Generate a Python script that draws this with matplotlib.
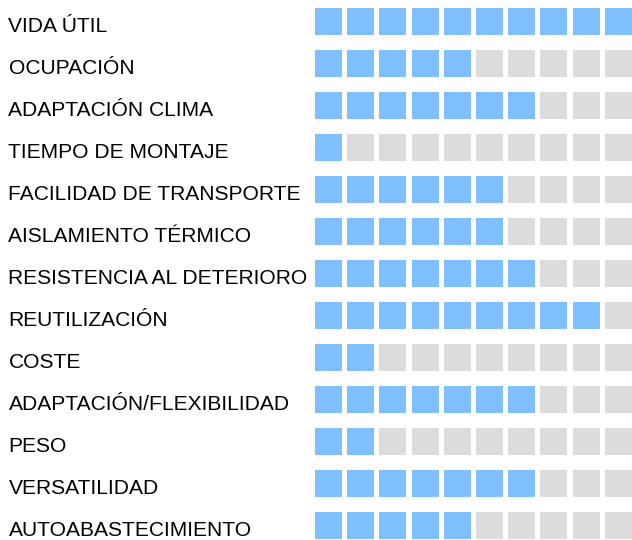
import matplotlib
matplotlib.use("Agg")
import matplotlib.pyplot as plt
from matplotlib.transforms import blended_transform_factory

plt.rcParams["font.family"] = ["Liberation Sans", "DejaVu Sans"]

labels = [
    "VIDA ÚTIL",
    "OCUPACIÓN",
    "ADAPTACIÓN CLIMA",
    "TIEMPO DE MONTAJE",
    "FACILIDAD DE TRANSPORTE",
    "AISLAMIENTO TÉRMICO",
    "RESISTENCIA AL DETERIORO",
    "REUTILIZACIÓN",
    "COSTE",
    "ADAPTACIÓN/FLEXIBILIDAD",
    "PESO",
    "VERSATILIDAD",
    "AUTOABASTECIMIENTO",
]
scores = [10, 5, 7, 1, 6, 6, 7, 9, 2, 7, 2, 7, 5]
max_score = 10

BLUE = "#80bfff"
GREY = "#dcdcdc"

W, H = 632, 540
fig = plt.figure(figsize=(W / 100, H / 100), dpi=100)

# one data unit per cell: 32.2 px across, 42 px down
pitch_x, pitch_y = 32.2, 42.0
grid_left = 315 - (pitch_x - 27) / 2
grid_top = 21.5 - pitch_y / 2
n = len(labels)
ax = fig.add_axes([grid_left / W,
                   1 - (grid_top + n * pitch_y) / H,
                   max_score * pitch_x / W,
                   n * pitch_y / H])
ax.set_xlim(-0.5, max_score - 0.5)
ax.set_ylim(n - 0.5, -0.5)
ax.axis("off")

sq_w = 27 / pitch_x
sq_h = 27 / pitch_y
cols = list(range(max_score))
for r, s in enumerate(scores):
    colors = [BLUE if c < s else GREY for c in cols]
    ax.bar(cols, sq_h, bottom=r - sq_h / 2, width=sq_w, color=colors,
           edgecolor="none", clip_on=False)

# labels sit on a baseline a little below the row centre
trans = blended_transform_factory(fig.transFigure, ax.transData)
for r, lab in enumerate(labels):
    ax.text(8.5 / W, r + 10.5 / pitch_y, lab, transform=trans,
            ha="left", va="baseline", fontsize=15.15, color="#000000")

fig.savefig("out.png", dpi=100)
